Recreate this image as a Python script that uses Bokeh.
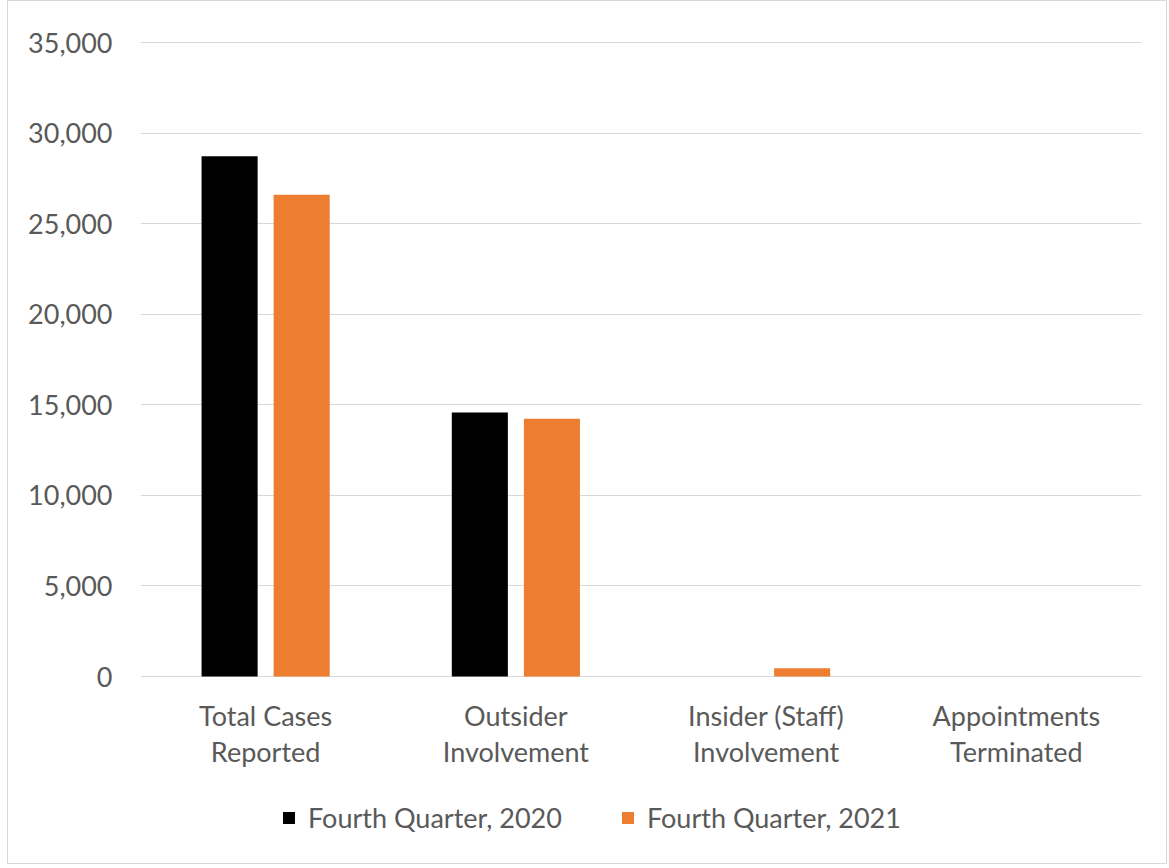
from bokeh.plotting import figure
from bokeh.models import ColumnDataSource, FactorRange, Legend, LegendItem, NumeralTickFormatter, FixedTicker
from bokeh.core.properties import value
from bokeh.transform import dodge
from bokeh.embed import file_html
from bokeh.resources import INLINE

categories = ["Total Cases\nReported", "Outsider\nInvolvement", "Insider (Staff)\nInvolvement", "Appointments\nTerminated"]
q4_2020 = [28720, 14580, 0, 0]
q4_2021 = [26590, 14230, 450, 0]
series_names = ["Fourth Quarter, 2020", "Fourth Quarter, 2021"]
y_ticks = [0, 5000, 10000, 15000, 20000, 25000, 30000, 35000]
y_max = 35000

FONT = "Lato"
TXT = "#595959"
FS = "27px"

# layout (pixels)
W, H = 1160, 864
TOP = 38          # frame top inside figure
PAD_TOP = 3       # pixels between frame top and the y_max gridline
AXIS_PX = 634     # pixels from 0 to y_max
frame_h = H - TOP
units_per_px = y_max / AXIS_PX
y_end = y_max + PAD_TOP * units_per_px
y_start = -(frame_h - PAD_TOP - AXIS_PX) * units_per_px
label_y = -22 * units_per_px

src = ColumnDataSource(dict(cat=categories, a=q4_2020, b=q4_2021))

p = figure(x_range=FactorRange(*categories, range_padding=0), y_range=(y_start, y_end),
           width=W, height=H, output_backend="svg", toolbar_location=None,
           min_border_left=132, min_border_right=27, min_border_top=TOP, min_border_bottom=0,
           styles={"margin-left": "7px", "border": "1px solid #d9d9d9"})
p.outline_line_color = None
p.background_fill_color = "white"

r1 = p.vbar(x=dodge("cat", -0.144, range=p.x_range), top="a", width=0.224, source=src,
            fill_color="#000000", line_color=None)
r2 = p.vbar(x=dodge("cat", 0.144, range=p.x_range), top="b", width=0.224, source=src,
            fill_color="#ED7D31", line_color=None)

p.text(x="cat", y=label_y, text="cat", source=src, text_align="center", text_baseline="top",
       text_font=value(FONT), text_font_size=FS, text_color=TXT, text_line_height=1.1)

p.xaxis.visible = False
p.xgrid.grid_line_color = None
p.ygrid.grid_line_color = "#d9d9d9"
p.ygrid.grid_line_width = 1
p.ygrid.ticker = FixedTicker(ticks=y_ticks)

p.yaxis.ticker = FixedTicker(ticks=y_ticks)
p.yaxis.formatter = NumeralTickFormatter(format="0,0")
p.yaxis.axis_line_color = None
p.yaxis.major_tick_line_color = None
p.yaxis.minor_tick_line_color = None
p.yaxis.major_label_text_font = FONT
p.yaxis.major_label_text_font_size = FS
p.yaxis.major_label_text_color = TXT
p.yaxis.major_label_standoff = 22

legend = Legend(items=[LegendItem(label=series_names[0], renderers=[r1]),
                       LegendItem(label=series_names[1], renderers=[r2])],
                orientation="horizontal", location=(141, 31),
                padding=0, margin=0, spacing=58, label_standoff=12,
                glyph_width=15, glyph_height=15,
                label_text_font=FONT, label_text_font_size=FS, label_text_color=TXT,
                border_line_color=None, background_fill_alpha=0)
p.add_layout(legend, "center")

open("out.html", "w").write(file_html(p, INLINE))
